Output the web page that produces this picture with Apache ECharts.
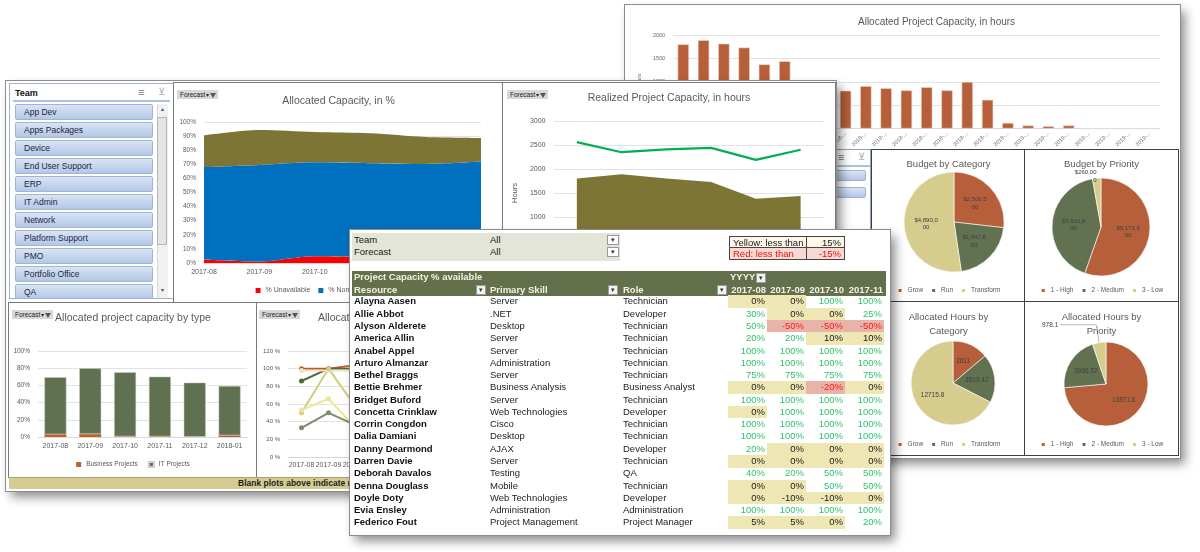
<!DOCTYPE html>
<html>
<head>
<meta charset="utf-8">
<title>Capacity dashboard</title>
<script src="https://cdn.jsdelivr.net/npm/echarts@6/dist/echarts.min.js"></script>
<style>
html,body{margin:0;padding:0}
body{width:1200px;height:552px;position:relative;overflow:hidden;background:#fff;font-family:"Liberation Sans",Arial,sans-serif;color:#1a1a1a}
.a{position:absolute}
.win{position:absolute;background:#fff;outline:1px solid #8c8c8c;box-shadow:5px 6px 10px rgba(0,0,0,0.45)}
.pnl{position:absolute;background:#fff;outline:1px solid #7a7a7a}
.cell{position:absolute;background:#fff;outline:1px solid #404040}
.fbtn{position:absolute;height:9px;line-height:9px;font-size:6.5px;background:#d8d8d8;color:#222;padding:0 2px 0 3px;white-space:nowrap;z-index:5}
.fbtn .dd{font-size:6px;margin-left:1px}
.fbtn .fun{display:inline-block;width:0;height:0;border-left:3px solid transparent;border-right:3px solid transparent;border-top:5px solid #555;vertical-align:-1px;margin-left:1px}
.sbtn{position:absolute;height:15px;line-height:14px;font-size:8.5px;color:#1c2740;border:1px solid #9fb4d6;border-radius:2px;background:linear-gradient(#d9e4f4,#b3c7e7);box-sizing:border-box;padding-left:8px;white-space:nowrap;overflow:hidden}
.t{position:absolute;white-space:nowrap;font-size:9.5px;line-height:12.3px}
.dd2{position:absolute;width:10px;height:10px;background:#f2f2f2;border:1px solid #9a9a9a;box-sizing:border-box;font-size:7px;line-height:8px;text-align:center;color:#333}
.ch{position:absolute;left:0;top:0;width:100%;height:100%}
</style>
</head>
<body>
<script>
// ---------------- DATA ----------------
const apcMonths = ['2017-08','2017-09','2017-10','2017-11','2017-12','2018-01','2018-02','2018-03','2018-04','2018-05','2018-06','2018-07','2018-08','2018-09','2018-10','2018-11','2018-12','2019-01','2019-02','2019-03','2019-04','2019-05','2019-06','2019-07'];
const apcHours = [1800,1890,1815,1732,1372,1440,870,845,810,907,862,817,885,817,997,615,120,67,52,67,0,0,0,0];

const months6 = ['2017-08','2017-09','2017-10','2017-11','2017-12','2018-01'];
const pctUnavailable = [2.4,1.0,4.7,4.2,3.6,3.2];
const pctNonProject = [65.6,68.5,66.7,66.5,66.6,68.7];
const pctProject = [22.5,24.8,21.5,21.3,19.2,16.8];

const realizedHours = [1800,1890,1800,1730,1380,1435];
const availableHours = [2560,2350,2410,2440,2190,2400];

const typeBusiness = [3.2,3.4,0.8,0.7,0.3,2.0];
const typeIT = [66.2,76.4,74.4,69.5,62.9,57.3];

const teamLineNames = ['App Dev','Apps Packages','Device','End User Support','ERP','IT Admin'];
const teamAppDev = [100,100,104,101,100,100];
const teamAppsPackages = [86,100,100,100,95,90];
const teamDevice = [98,98,98,98,98,98];
const teamEndUser = [50,100,57,60,55,50];
const teamERP = [53,66,33,40,45,40];
const teamITAdmin = [33,50,36,40,38,35];

const budgetCats = ['Grow','Run','Transform'];
const budgetByCat = [2506500,1947800,4890000];
const priorities = ['1 - High','2 - Medium','3 - Low'];
const budgetByPri = [5173500,3910800,260000];
const hoursByCat = [2611,3519.42,12715.8];
const hoursByPri = [13871.6,3996.52,978.1];

const teams = ['App Dev','Apps Packages','Device','End User Support','ERP','IT Admin','Network','Platform Support','PMO','Portfolio Office','QA'];

const tableMonths = ['2017-08','2017-09','2017-10','2017-11'];
const resources = ['Alayna Aasen','Allie Abbot','Alyson Alderete','America Allin','Anabel Appel','Arturo Almanzar','Bethel Braggs','Bettie Brehmer','Bridget Buford','Concetta Crinklaw','Corrin Congdon','Dalia Damiani','Danny Dearmond','Darren Davie','Deborah Davalos','Denna Douglass','Doyle Doty','Evia Ensley','Federico Fout'];
const skills = ['Server','.NET','Desktop','Server','Server','Administration','Server','Business Analysis','Server','Web Technologies','Cisco','Desktop','AJAX','Server','Testing','Mobile','Web Technologies','Administration','Project Management'];
const roles = ['Technician','Developer','Technician','Technician','Technician','Technician','Technician','Business Analyst','Technician','Developer','Technician','Technician','Developer','Technician','QA','Technician','Developer','Administration','Project Manager'];
const capacity = [
  [0,0,100,100],[30,0,0,25],[50,-50,-50,-50],[20,20,10,10],[100,100,100,100],
  [100,100,100,100],[75,75,75,75],[0,0,-20,0],[100,100,100,100],[0,100,100,100],
  [100,100,100,100],[100,100,100,100],[20,0,0,0],[0,0,0,0],[40,20,50,50],
  [0,0,50,50],[0,-10,-10,0],[100,100,100,100],[5,5,0,20]
];
const yellowLimit = 15;
const redLimit = -15;

// ---------------- HELPERS ----------------
const FONT = '"Liberation Sans", Arial, sans-serif';
const GREY = '#595959';
const RUST = '#b65f3a';
const DKGREEN = '#627250';
const TAN = '#d6cc8e';
const OLIVE = '#7d7535';
const plainNum = v => String(v);

function add(parent, cls, x, y, w, h, html, css) {
  const d = document.createElement('div');
  d.className = cls;
  let s = 'left:' + x + 'px;top:' + y + 'px;';
  if (w != null) s += 'width:' + w + 'px;';
  if (h != null) s += 'height:' + h + 'px;';
  d.style.cssText = s + (css || '');
  d.innerHTML = html || '';
  parent.appendChild(d);
  return d;
}
function chartIn(parent) {
  const d = document.createElement('div');
  d.className = 'ch';
  parent.appendChild(d);
  return echarts.init(d, null, {renderer: 'canvas'});
}
function forecastBtn(x, y) {
  add(document.body, 'fbtn', x, y, null, null, 'Forecast<span class="dd">&#9662;</span><span class="fun"></span>');
}
const B = document.body;

// ---------------- BACK (RIGHT) WINDOW ----------------
add(B, 'win', 625, 5, 555, 453);
const pAPC = add(B, 'a', 628, 8, 550, 142, '', 'background:#fff');
const cAPC = chartIn(pAPC);
cAPC.setOption({
  animation: false,
  textStyle: {fontFamily: FONT},
  title: {text: 'Allocated Project Capacity, in hours', left: 230, top: 9, padding: 0,
    textStyle: {fontSize: 10, fontWeight: 'normal', color: GREY, fontFamily: FONT}},
  grid: {left: 35, right: 18, top: 27, bottom: 18},
  xAxis: {type: 'category', data: apcMonths, axisLine: {lineStyle: {color: '#d9d9d9'}}, axisTick: {show: false},
    axisLabel: {interval: 0, rotate: 45, fontSize: 5.5, color: '#666', margin: 4, formatter: v => v.slice(0, 5) + '...'}},
  yAxis: {type: 'value', min: 0, max: 2000, interval: 500, name: 'Hours', nameLocation: 'middle', nameGap: 25,
    nameTextStyle: {fontSize: 6, color: '#666'}, axisLabel: {fontSize: 5.5, color: '#666', margin: 8, formatter: plainNum},
    splitLine: {lineStyle: {color: '#e3e3e3'}}},
  series: [{type: 'bar', data: apcHours, barWidth: '56%', itemStyle: {color: RUST, borderColor: '#f0d8c8', borderWidth: 0.6}}]
});

// right slicer remnant
const rs = add(B, 'a', 720, 150, 150, 80, '', 'background:#fff;outline:1px solid #8da3c6;overflow:hidden');
add(rs, 'a', 118, 1, 14, 12, '&#8801;', 'font-size:11px;color:#777;line-height:12px');
add(rs, 'a', 138, 1, 12, 12, '&#8891;', 'font-size:10px;color:#aaa;line-height:12px');
add(rs, 'a', 0, 15, 150, 2, '', 'background:#a9c0e0');
add(rs, 'sbtn', 10, 20, 136, 11, '', '');
add(rs, 'sbtn', 10, 37, 136, 11, '', '');

// pie cells
const pieCells = [
  add(B, 'cell', 872, 150, 153, 152),
  add(B, 'cell', 1025, 150, 153, 152),
  add(B, 'cell', 872, 302, 153, 153),
  add(B, 'cell', 1025, 302, 153, 153)
];
function pieOption(title, names, values, cx, cy, r, opts) {
  const data = names.map((n, i) => ({name: n, value: values[i]}));
  if (opts.lowLabel) Object.assign(data[2], opts.lowLabel);
  return {
    animation: false,
    textStyle: {fontFamily: FONT},
    color: [RUST, DKGREEN, TAN],
    title: {text: title, left: 'center', top: opts.titleTop, padding: 0,
      textStyle: {fontSize: 9.5, fontWeight: 'normal', color: GREY, fontFamily: FONT, lineHeight: 14}},
    legend: {bottom: opts.legendBottom, left: 'center', icon: 'rect', itemWidth: 5, itemHeight: 5, itemGap: 7, padding: 0,
      textStyle: {fontSize: 6.5, color: GREY}, data: names},
    series: [{
      type: 'pie', radius: r, center: [cx, cy], startAngle: 90, data: data,
      itemStyle: {borderColor: '#fff', borderWidth: 0.6},
      emphasis: {disabled: true},
      label: {position: 'inside', fontSize: opts.labelSize, color: '#404040', lineHeight: opts.labelSize + 1.5,
        formatter: opts.formatter, align: 'center'},
      labelLine: {show: false}
    }]
  };
}
// Excel wraps the long currency labels inside the narrow label box
const dollarWrapped = p => {
  const s = '$' + p.value.toLocaleString('en-US');
  const n = s.length > 8 ? 8 : 7;
  return s.slice(0, n) + '\n' + s.slice(n);
};
const plain = p => String(p.value);
chartIn(pieCells[0]).setOption(pieOption('Budget by Category', budgetCats, budgetByCat, 82, 72, 50,
  {titleTop: 7, legendBottom: 8, labelSize: 6, formatter: dollarWrapped}));
chartIn(pieCells[1]).setOption(pieOption('Budget by Priority', priorities, budgetByPri, 76, 77, 49,
  {titleTop: 7, legendBottom: 8, labelSize: 6, formatter: dollarWrapped,
   lowLabel: {label: {position: 'outside', distanceToLabelLine: 0},
              labelLine: {show: false, length: 2, length2: 0}}}));
chartIn(pieCells[2]).setOption(pieOption('Allocated Hours by\nCategory', budgetCats, hoursByCat, 81, 81, 42,
  {titleTop: 8, legendBottom: 7, labelSize: 6.5, formatter: plain}));
chartIn(pieCells[3]).setOption(pieOption('Allocated Hours by\nPriority', priorities, hoursByPri, 81, 82, 42,
  {titleTop: 8, legendBottom: 7, labelSize: 6.5, formatter: plain,
   lowLabel: {label: {position: 'outside', distanceToLabelLine: 2},
              labelLine: {show: true, length: 18, length2: 36, lineStyle: {color: '#a6a6a6', width: 0.8}}}}));

// ---------------- LEFT WINDOW ----------------
add(B, 'win', 6, 81, 830, 410);

// slicer
const sl = add(B, 'a', 10, 84, 163, 214, '', 'background:#fff;outline:1px solid #9fb2cf;overflow:hidden');
add(sl, 'a', 5, 3, null, 12, 'Team', 'font-size:9px;font-weight:bold;line-height:12px;color:#111');
add(sl, 'a', 128, 2, 14, 12, '&#8801;', 'font-size:11px;color:#777;line-height:12px');
add(sl, 'a', 148, 2, 12, 12, '&#8891;', 'font-size:10px;color:#aaa;line-height:12px');
add(sl, 'a', 3, 16, 157, 2, '', 'background:#a9c0e0');
teams.forEach((t, i) => add(sl, 'sbtn', 5, 20 + i * 18, 138, 15.5, t));
add(sl, 'a', 147, 20, 10, 194, '', 'background:#f1f1f1;border-left:1px solid #d8d8d8');
add(sl, 'a', 147, 33, 10, 128, '', 'background:#e4e4e4;border:1px solid #b5b5b5;box-sizing:border-box');
add(sl, 'a', 148, 20, 9, 10, '&#9652;', 'font-size:6px;color:#555;text-align:center;line-height:10px');
add(sl, 'a', 148, 201, 9, 10, '&#9662;', 'font-size:6px;color:#555;text-align:center;line-height:10px');

// Allocated Capacity, in %
const pA = add(B, 'pnl', 174, 83, 329, 219);
const areaSeries = (name, data, color) => ({
  name: name, type: 'line', stack: 'cap', data: data, symbol: 'none', smooth: 0.3,
  lineStyle: {width: 0}, areaStyle: {color: color, opacity: 1}, itemStyle: {color: color}
});
chartIn(pA).setOption({
  animation: false,
  textStyle: {fontFamily: FONT},
  title: {text: 'Allocated Capacity, in %', left: 'center', top: 13, padding: 0,
    textStyle: {fontSize: 10.5, fontWeight: 'normal', color: GREY, fontFamily: FONT}},
  grid: {left: 30, right: 22, top: 39, bottom: 39},
  legend: {bottom: 8, left: 'center', icon: 'rect', itemWidth: 5, itemHeight: 5, itemGap: 8, padding: 0,
    textStyle: {fontSize: 7, color: GREY}},
  xAxis: {type: 'category', boundaryGap: false, data: months6, axisLine: {lineStyle: {color: '#d9d9d9'}},
    axisTick: {show: false}, axisLabel: {fontSize: 7, color: GREY, margin: 6}},
  yAxis: {type: 'value', min: 0, max: 100, interval: 10, axisLabel: {formatter: '{value}%', fontSize: 6.5, color: GREY, margin: 8},
    splitLine: {lineStyle: {color: '#e3e3e3'}}},
  series: [
    areaSeries('% Unavailable', pctUnavailable, '#ff0000'),
    areaSeries('% Non-Project', pctNonProject, '#0070c0'),
    areaSeries('% Project', pctProject, OLIVE)
  ]
});

// Realized Project Capacity
const pB = add(B, 'pnl', 503, 83, 332, 219);
chartIn(pB).setOption({
  animation: false,
  textStyle: {fontFamily: FONT},
  title: {text: 'Realized Project Capacity, in hours', left: 'center', top: 10, padding: 0,
    textStyle: {fontSize: 10.5, fontWeight: 'normal', color: GREY, fontFamily: FONT}},
  grid: {left: 44, right: 12, top: 38, bottom: 37},
  legend: {bottom: 6, left: 'center', icon: 'rect', itemWidth: 5, itemHeight: 5, padding: 0, textStyle: {fontSize: 7, color: GREY}},
  xAxis: {type: 'category', data: months6, axisLine: {lineStyle: {color: '#d9d9d9'}}, axisTick: {show: false},
    axisLabel: {fontSize: 7, color: GREY, margin: 6}},
  yAxis: {type: 'value', min: 0, max: 3000, interval: 500, name: 'Hours', nameLocation: 'middle', nameGap: 27,
    nameTextStyle: {fontSize: 7.5, color: GREY}, axisLabel: {fontSize: 7, color: GREY, margin: 9, formatter: plainNum},
    splitLine: {lineStyle: {color: '#e3e3e3'}}},
  series: [
    {name: 'Allocated Project Hours', type: 'line', data: realizedHours, symbol: 'none', lineStyle: {width: 0},
     areaStyle: {color: OLIVE, opacity: 1}, itemStyle: {color: OLIVE}},
    {name: 'Available Project Hours', type: 'line', data: availableHours, symbol: 'none',
     lineStyle: {width: 2.2, color: '#00b050'}, itemStyle: {color: '#00b050'}}
  ]
});

// Allocated project capacity by type
const pC = add(B, 'pnl', 9, 303, 248, 174);
chartIn(pC).setOption({
  animation: false,
  textStyle: {fontFamily: FONT},
  title: {text: 'Allocated project capacity by type', left: 'center', top: 10, padding: 0,
    textStyle: {fontSize: 10.5, fontWeight: 'normal', color: GREY, fontFamily: FONT}},
  grid: {left: 29, right: 10, top: 48, bottom: 40},
  legend: {bottom: 9, left: 'center', icon: 'rect', itemWidth: 5, itemHeight: 5, itemGap: 10, padding: 0,
    textStyle: {fontSize: 6.5, color: GREY}},
  xAxis: {type: 'category', data: months6, axisLine: {lineStyle: {color: '#d9d9d9'}}, axisTick: {show: false},
    axisLabel: {fontSize: 7, color: GREY, margin: 6}},
  yAxis: {type: 'value', min: 0, max: 100, interval: 20, axisLabel: {formatter: '{value}%', fontSize: 6.5, color: GREY, margin: 8},
    splitLine: {lineStyle: {color: '#e3e3e3'}}},
  series: [
    {name: 'Business Projects', type: 'bar', stack: 't', data: typeBusiness, barWidth: '63%', itemStyle: {color: '#c0602f'}},
    {name: 'IT Projects', type: 'bar', stack: 't', data: typeIT, barWidth: '63%', itemStyle: {color: '#5f7150', borderColor: '#c9d0bf', borderWidth: 0.5}}
  ]
});

// Allocated capacity by team (partly hidden)
const pD = add(B, 'pnl', 257, 303, 249, 174);
const teamData = [teamAppDev, teamAppsPackages, teamDevice, teamEndUser, teamERP, teamITAdmin];
const teamColors = ['#c0582a', '#4f6b3b', '#ebe5c4', '#d6cb78', '#efe597', '#7d8c6e'];
chartIn(pD).setOption({
  animation: false,
  textStyle: {fontFamily: FONT},
  title: {text: 'Allocated Capacity by Team', left: 61, top: 10, padding: 0,
    textStyle: {fontSize: 10.5, fontWeight: 'normal', color: GREY, fontFamily: FONT}},
  grid: {left: 31, right: 56, top: 48, bottom: 20},
  xAxis: {type: 'category', data: months6, axisLine: {lineStyle: {color: '#d9d9d9'}}, axisTick: {show: false},
    axisLabel: {fontSize: 7, color: GREY, margin: 5, interval: 0}},
  yAxis: {type: 'value', min: 0, max: 120, interval: 20, axisLabel: {formatter: '{value} %', fontSize: 6, color: GREY, margin: 8},
    splitLine: {lineStyle: {color: '#e3e3e3'}}},
  series: teamLineNames.map((n, i) => ({
    name: n, type: 'line', data: teamData[i], symbol: 'circle', symbolSize: 5,
    lineStyle: {width: 2, color: teamColors[i]}, itemStyle: {color: teamColors[i]}
  }))
});

forecastBtn(177, 90);
forecastBtn(507, 90);
forecastBtn(12, 310);
forecastBtn(259, 310);

// bottom note bar
const nb = add(B, 'a', 9, 477, 826, 12, '', 'background:#d5cc92;border-top:1px solid #a8a070;box-sizing:border-box');
add(nb, 'a', 229, 0, null, 11, 'Blank plots above indicate no data for the current selection',
  'font-size:8.5px;font-weight:bold;line-height:11px;color:#1e1e1e;white-space:nowrap');

// ---------------- TABLE WINDOW ----------------
const T = add(B, 'win', 350, 230, 540, 305, '', 'overflow:hidden');
add(T, 'a', 2, 3, 268, 28, '', 'background:#e2e5d7');
add(T, 't', 4, 4, null, null, 'Team');
add(T, 't', 4, 16, null, null, 'Forecast');
add(T, 't', 140, 4, null, null, 'All');
add(T, 't', 140, 16, null, null, 'All');
add(T, 'dd2', 257, 5, 12, 10, '&#9662;', 'background:#fff');
add(T, 'dd2', 257, 17, 12, 10, '&#9662;', 'background:#fff');
// threshold box
const tb = add(T, 'a', 379, 6, 116, 24, '', 'border:1px solid #444;box-sizing:border-box;background:#fdf6e9');
add(tb, 't', 0, 0, 77, 11, 'Yellow: less than', 'padding-left:3px;box-sizing:border-box;line-height:11px;border-right:1px solid #444;border-bottom:1px solid #444');
add(tb, 't', 77, 0, 37, 11, yellowLimit + '%', 'text-align:right;padding-right:3px;box-sizing:border-box;line-height:11px;border-bottom:1px solid #444');
add(tb, 't', 0, 11, 77, 11, 'Red: less than', 'padding-left:3px;box-sizing:border-box;line-height:11px;border-right:1px solid #444;background:#f7d9d3;color:#ee1111');
add(tb, 't', 77, 11, 37, 11, redLimit + '%', 'text-align:right;padding-right:3px;box-sizing:border-box;line-height:11px;background:#f7d9d3;color:#ee1111');
// header band
add(T, 'a', 2, 41, 534, 24.5, '', 'background:#63704b');
const hdr = 'font-weight:bold;color:#f1f1e6;line-height:12.5px';
add(T, 't', 4, 41, null, null, 'Project Capacity % available', hdr);
add(T, 't', 380, 41, null, null, 'YYYY', hdr);
add(T, 'dd2', 406, 42.5, 10, 10, '&#9662;');
add(T, 't', 4, 53.5, null, null, 'Resource', hdr);
add(T, 'dd2', 126, 54.5, 10, 10, '&#9662;');
add(T, 't', 140, 53.5, null, null, 'Primary Skill', hdr);
add(T, 'dd2', 258, 54.5, 10, 10, '&#9662;');
add(T, 't', 273, 53.5, null, null, 'Role', hdr);
add(T, 'dd2', 367, 54.5, 10, 10, '&#9662;');
const colX = [378, 417, 456, 495];
tableMonths.forEach((m, j) => add(T, 't', colX[j], 53.5, 39, null, m, hdr + ';text-align:right;padding-right:1px;box-sizing:border-box'));
// rows
resources.forEach((r, i) => {
  const y = 65.4 + i * 12.28;
  add(T, 't', 4, y, null, null, r, 'font-weight:bold;color:#111');
  add(T, 't', 140, y, null, null, skills[i], 'color:#222');
  add(T, 't', 273, y, null, null, roles[i], 'color:#222');
  capacity[i].forEach((v, j) => {
    let bg = 'transparent', col = '#2fc46a';
    if (v < redLimit) { bg = '#e8b3a8'; col = '#ff1a1a'; }
    else if (v < yellowLimit) { bg = '#eee7b3'; col = '#1a1a1a'; }
    add(T, 't', colX[j], y, 39, 12.5, v + '%',
      'background:' + bg + ';color:' + col + ';text-align:right;padding-right:2px;box-sizing:border-box');
  });
});
</script>
</body>
</html>
